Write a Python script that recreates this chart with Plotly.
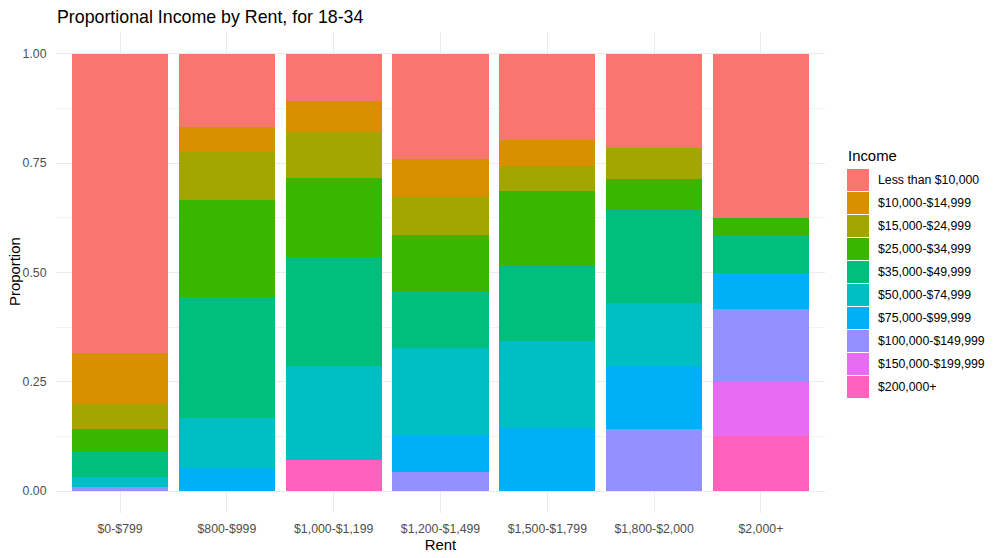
import plotly.graph_objects as go

rent = ["$0-$799", "$800-$999", "$1,000-$1,199", "$1,200-$1,499",
        "$1,500-$1,799", "$1,800-$2,000", "$2,000+"]

income_levels = ["Less than $10,000", "$10,000-$14,999", "$15,000-$24,999",
                 "$25,000-$34,999", "$35,000-$49,999", "$50,000-$74,999",
                 "$75,000-$99,999", "$100,000-$149,999", "$150,000-$199,999",
                 "$200,000+"]

colors = ["#F8766D", "#D89000", "#A3A500", "#39B600", "#00BF7D",
          "#00BFC4", "#00B0F6", "#9590FF", "#E76BF3", "#FF62BC"]

# proportion of each income group within each rent band
less_10k      = [0.684, 0.168, 0.108, 0.240, 0.198, 0.214, 0.375]
inc_10k_15k   = [0.117, 0.056, 0.070, 0.087, 0.059, 0.000, 0.000]
inc_15k_25k   = [0.057, 0.111, 0.107, 0.087, 0.056, 0.071, 0.000]
inc_25k_35k   = [0.050, 0.221, 0.179, 0.130, 0.172, 0.071, 0.042]
inc_35k_50k   = [0.059, 0.278, 0.250, 0.129, 0.171, 0.214, 0.083]
inc_50k_75k   = [0.024, 0.113, 0.215, 0.198, 0.200, 0.143, 0.000]
inc_75k_100k  = [0.000, 0.054, 0.000, 0.085, 0.144, 0.143, 0.083]
inc_100k_150k = [0.009, 0.000, 0.000, 0.044, 0.000, 0.143, 0.167]
inc_150k_200k = [0.000, 0.000, 0.000, 0.000, 0.000, 0.000, 0.125]
inc_200k_plus = [0.000, 0.000, 0.071, 0.000, 0.000, 0.000, 0.125]

series = [less_10k, inc_10k_15k, inc_15k_25k, inc_25k_35k, inc_35k_50k,
          inc_50k_75k, inc_75k_100k, inc_100k_150k, inc_150k_200k, inc_200k_plus]

y_ticks = [0, 0.25, 0.5, 0.75, 1.0]

FONT = "Liberation Sans, Arial, sans-serif"
W, H = 1000, 558
L, R, T, B = 56, 825, 32, 513  # plot area in pixels
TXT = 12.3

fig = go.Figure()
# ggplot stacks first level on top, so add traces bottom-up
for name, vals, col in reversed(list(zip(income_levels, series, colors))):
    fig.add_trace(go.Bar(x=rent, y=vals, name=name, marker_color=col,
                         marker_line_width=0, showlegend=False))


def px_x(x):
    return (x - L) / (R - L)


def px_y(y):
    return (B - y) / (B - T)


shapes = []
annotations = []
# y axis title
annotations.append(dict(text="Proportion", x=px_x(15), y=px_y(272), xref="paper", yref="paper",
                        xanchor="center", yanchor="middle", textangle=-90, showarrow=False,
                        font=dict(family=FONT, size=14.9, color="black")))
# custom ggplot-style legend
annotations.append(dict(text="Income", x=px_x(846), y=px_y(156), xref="paper", yref="paper",
                        xanchor="left", yanchor="middle", showarrow=False,
                        font=dict(family=FONT, size=14.9, color="black")))
key_top = 169
pitch = 23
for i, (name, col) in enumerate(zip(income_levels, colors)):
    top = key_top + i * pitch
    shapes.append(dict(type="rect", xref="paper", yref="paper",
                       x0=px_x(847), x1=px_x(869), y0=px_y(top + 22), y1=px_y(top),
                       fillcolor=col, line=dict(width=0)))
    annotations.append(dict(text=name, x=px_x(876), y=px_y(top + 11), xref="paper", yref="paper",
                            xanchor="left", yanchor="middle", showarrow=False,
                            font=dict(family=FONT, size=TXT, color="black")))

fig.update_layout(
    width=W, height=H,
    margin=dict(l=L, r=W - R, t=T, b=H - B, pad=0, autoexpand=False),
    barmode="stack", barnorm="fraction", bargap=0.1,
    plot_bgcolor="white", paper_bgcolor="white",
    font=dict(family=FONT, color="black"),
    title=dict(text="Proportional Income by Rent, for 18-34", x=57 / W,
               xref="container", xanchor="left", y=1 - 17 / H, yref="container", yanchor="middle",
               pad=dict(l=0, r=0, t=0, b=0),
               font=dict(family=FONT, size=17.8, color="black")),
    xaxis=dict(title=dict(text="Rent", font=dict(family=FONT, size=14.9, color="black"), standoff=4),
               automargin=False,
               showgrid=True, gridcolor="#EBEBEB", gridwidth=1.1, zeroline=False,
               tickfont=dict(family=FONT, size=TXT, color="#4D4D4D"),
               ticks="outside", ticklen=4, tickcolor="rgba(0,0,0,0)",
               showline=False, range=[-0.6, 6.6]),
    yaxis=dict(automargin=False,
               range=[-0.05, 1.05], tickvals=y_ticks, tickformat=".2f",
               showgrid=True, gridcolor="#EBEBEB", gridwidth=1.1, zeroline=False,
               minor=dict(tick0=0.125, dtick=0.25, showgrid=True, gridcolor="#F2F2F2", gridwidth=0.6),
               tickfont=dict(family=FONT, size=TXT, color="#4D4D4D"),
               ticks="outside", ticklen=6, tickcolor="rgba(0,0,0,0)", showline=False),
    shapes=shapes, annotations=annotations,
)

fig.write_html("out.html", config={"displayModeBar": False},
               post_script="document.body.style.margin='0px';")
